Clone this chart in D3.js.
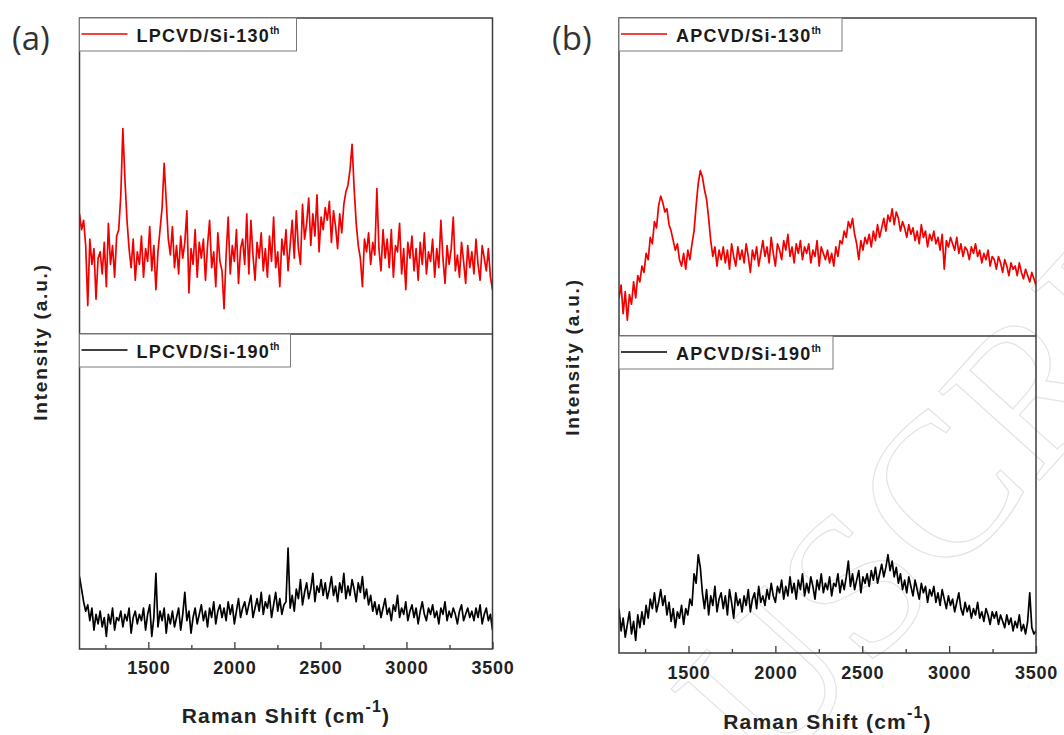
<!DOCTYPE html>
<html><head><meta charset="utf-8">
<script src="https://cdn.jsdelivr.net/npm/d3@7"></script>
<style>body{margin:0;background:#fff}svg{display:block}</style>
</head><body><svg id="c" width="1064" height="735"></svg>
<script>
// ---- data (Raman shift grid, cm-1) ----
const shiftStart = 1100, shiftEnd = 3500, shiftStep = 12;
const ramanShift = d3.range(shiftStart, shiftEnd + 1, shiftStep);

// intensities (a.u.)
const lpcvd130 = [38,33,36,28,9,30,22,27,11,24, 26,19,29,15,35,22,28,18,31,33, 44,65,49,36,27,21,30,17,26,22,
 31,18,27,23,34,20,28,14,26,33, 40,54,42,30,25,34,21,28,19,31, 24,29,39,13,27,22,33,18,29,24,
 30,17,28,36,21,26,15,32,23,20, 8,25,37,19,28,23,33,16,27,30, 22,38,19,36,25,17,29,24,32,20,
 27,18,31,23,37,21,26,15,30,25, 33,20,28,36,24,39,27,22,41,30, 35,43,28,38,31,44,26,37,33,40,
 36,42,29,39,34,27,38,32,41,45, 47,52,60,46,35,28,24,15,30,26, 32,22,29,25,46,27,20,33,24,30,
 21,33,18,28,26,35,19,27,14,29, 24,31,20,27,17,29,22,32,19,26, 23,30,18,27,21,36,24,16,28,22,
 27,37,20,25,18,29,23,16,28,21, 26,19,30,22,17,28,24,20,27,18,14];
const lpcvd190 = [23,19,15,12,14,9,13,6,11,8, 12,7,10,4,11,8,13,6,10,9, 12,7,11,9,13,5,10,12,8,11,
 9,13,6,11,14,4,10,24,7,12, 9,13,5,11,8,12,7,10,13,6, 11,18,9,12,5,10,13,8,11,14,
 9,12,7,13,10,15,8,12,14,10, 13,9,15,11,14,8,12,16,10,13, 15,11,14,17,10,13,16,12,18,11,
 15,13,17,10,14,18,12,16,11,14, 15,32,13,17,12,19,16,22,14,18, 21,16,19,24,15,20,18,22,17,21,
 16,19,23,17,20,15,21,18,24,16, 20,17,22,19,15,21,18,23,16,19, 14,17,12,15,11,14,10,13,16,11,
 13,9,14,12,17,10,13,11,15,9, 12,14,10,13,8,12,15,11,9,13, 11,14,10,12,8,13,11,15,9,12,
 10,13,11,8,12,14,9,11,13,10, 12,9,13,10,14,8,11,13,9,11,6];
const apcvd130 = [12,16,7,14,5,13,10,17,12,19, 17,22,20,26,24,31,29,36,34,41, 44,42,39,40,35,33,30,27,29,24,
 22,26,21,27,24,29,33,41,48,52, 50,46,43,37,30,25,28,22,27,24, 28,23,27,21,29,25,22,28,24,27,
 23,29,25,20,27,24,28,22,26,30, 25,28,23,31,26,22,29,27,24,30, 27,32,25,28,23,29,26,30,24,28,
 26,29,23,27,25,30,22,28,26,24, 27,23,26,22,28,25,30,29,33,31, 36,34,37,32,29,24,30,27,31,29,
 32,28,33,30,35,31,34,37,33,38, 36,40,35,39,37,33,36,34,31,35, 32,34,30,33,29,35,31,33,28,32,
 30,33,29,31,27,32,21,30,28,31, 29,27,31,26,29,25,28,27,24,28, 26,29,25,27,23,26,24,27,22,25,
 24,21,25,23,20,24,22,19,23,21, 22,19,23,20,18,21,19,17,20,18,16];
const apcvd190 = [14,7,11,5,9,13,6,10,4,12, 8,13,9,15,11,17,14,19,13,16, 20,15,18,12,16,10,14,8,13,11,
 15,9,14,12,17,15,25,22,31,27, 19,14,20,12,18,15,21,13,17,19, 14,18,12,20,16,11,19,15,17,13,
 18,15,20,13,17,19,14,21,16,18, 15,20,17,22,18,16,21,19,23,17, 21,18,24,19,22,17,23,20,25,18,
 22,19,24,21,17,23,20,25,19,22, 20,24,18,22,21,25,19,23,20,24, 29,21,25,20,23,26,19,24,22,25,
 21,26,23,27,22,25,28,24,27,31, 26,29,24,27,22,25,20,23,19,24, 21,18,23,20,17,22,19,21,16,20,
 18,21,16,19,15,20,17,14,18,15, 17,13,16,19,14,12,16,13,15,11, 14,12,16,11,13,10,14,12,9,13,
 11,13,9,12,10,8,12,9,11,7, 10,8,12,7,9,6,10,19,8,6,7];

const majorTicks = [1500, 2000, 2500, 3000, 3500];
const minorTicks = [1250, 1750, 2250, 2750, 3250];
const panelLabels = ["(a)", "(b)"];
const topNames = ["LPCVD/Si-130", "APCVD/Si-130"];
const bottomNames = ["LPCVD/Si-190", "APCVD/Si-190"];
const nameSuffix = "th";
const xTitle = "Raman Shift (cm";
const yTitle = "Intensity (a.u.)";

const svg = d3.select("#c");
const FONT = "'Liberation Sans', Arial, sans-serif";

// faint watermark (clipped to the page)
svg.append("clipPath").attr("id", "wm").append("rect").attr("width", 1064).attr("height", 735);
svg.append("g").attr("clip-path", "url(#wm)").append("text")
  .attr("transform", "translate(768,782) rotate(-48)")
  .attr("font-family", "'Liberation Serif', 'DejaVu Serif', serif")
  .attr("font-size", 205)
  .attr("fill", "none").attr("stroke", "#e4e4e4").attr("stroke-width", 1.2)
  .text("USCRIPT");

const panels = [
  {l: 79.5, r: 492.5, t: 18, m: 334, b: 649, top: lpcvd130, bot: lpcvd190, legW1: 217, legW2: 211,
   lab: [12, 50], yt: [47, 342], xtY: 723, pad: 12.5},
  {l: 619, r: 1036, t: 18, m: 336, b: 653, top: apcvd130, bot: apcvd190, legW1: 223, legW2: 214,
   lab: [552, 50], yt: [579, 357], xtY: 729, pad: 13.5}
];

panels.forEach((p, k) => {
  const g = svg.append("g");
  const x = d3.scaleLinear().domain([shiftStart, shiftEnd]).range([p.l, p.r]);
  const yTop = d3.scaleLinear().domain([0, 100]).range([p.m, p.t]);
  const yBot = d3.scaleLinear().domain([0, 100]).range([p.b, p.m]);

  const cid = "clip" + k;
  svg.append("clipPath").attr("id", cid).append("rect")
    .attr("x", p.l).attr("y", p.t).attr("width", p.r - p.l).attr("height", p.b - p.t);

  const lineTop = d3.line().x((d, i) => x(ramanShift[i])).y(d => yTop(d));
  const lineBot = d3.line().x((d, i) => x(ramanShift[i])).y(d => yBot(d));
  g.append("path").attr("clip-path", `url(#${cid})`).attr("d", lineTop(p.top))
    .attr("fill", "none").attr("stroke", "#f20000").attr("stroke-width", 1.7).attr("stroke-linejoin", "round");
  g.append("path").attr("clip-path", `url(#${cid})`).attr("d", lineBot(p.bot))
    .attr("fill", "none").attr("stroke", "#000").attr("stroke-width", 1.7).attr("stroke-linejoin", "round");

  // frame and divider
  g.append("rect").attr("x", p.l).attr("y", p.t).attr("width", p.r - p.l).attr("height", p.b - p.t)
    .attr("fill", "none").attr("stroke", "#3c3c3c").attr("stroke-width", 1.5);
  g.append("line").attr("x1", p.l).attr("x2", p.r).attr("y1", p.m).attr("y2", p.m)
    .attr("stroke", "#3c3c3c").attr("stroke-width", 1.5);

  // axes (inward ticks)
  const axMaj = d3.axisBottom(x).tickValues(majorTicks).tickSizeInner(-7).tickSizeOuter(0).tickPadding(p.pad)
    .tickFormat(d3.format("d"));
  const axG = g.append("g").attr("transform", `translate(0,${p.b})`).call(axMaj);
  axG.select(".domain").remove();
  axG.selectAll("line").attr("stroke", "#3c3c3c").attr("stroke-width", 1.3);
  axG.selectAll("text").attr("font-family", FONT).attr("font-weight", "bold").attr("font-size", 18)
    .attr("letter-spacing", 0.8).attr("fill", "#222");
  const axMin = d3.axisBottom(x).tickValues(minorTicks).tickSizeInner(-4).tickSizeOuter(0).tickFormat("");
  const axM = g.append("g").attr("transform", `translate(0,${p.b})`).call(axMin);
  axM.select(".domain").remove();
  axM.selectAll("line").attr("stroke", "#3c3c3c").attr("stroke-width", 1.3);

  // legends
  const legends = [
    {y: p.t, w: p.legW1, name: topNames[k], color: "#f20000"},
    {y: p.m, w: p.legW2, name: bottomNames[k], color: "#000"}
  ];
  legends.forEach(L => {
    g.append("rect").attr("x", p.l).attr("y", L.y).attr("width", L.w).attr("height", 33)
      .attr("fill", "#fff").attr("stroke", "#7a7a7a").attr("stroke-width", 1);
    g.append("line").attr("x1", p.l + 2).attr("x2", p.l + 48).attr("y1", L.y + 16).attr("y2", L.y + 16)
      .attr("stroke", L.color).attr("stroke-width", 1.3);
    const t = g.append("text").attr("x", p.l + 57).attr("y", L.y + 24)
      .attr("font-family", FONT).attr("font-weight", "bold").attr("font-size", 18)
      .attr("letter-spacing", 1.2).attr("fill", "#1a1a1a");
    t.append("tspan").text(L.name);
    t.append("tspan").attr("font-size", 10).attr("dy", -8).attr("letter-spacing", 0).text(nameSuffix);
  });

  // panel label
  g.append("text").attr("x", p.lab[0]).attr("y", p.lab[1])
    .attr("font-family", "'Open Sans', 'Noto Sans', sans-serif").attr("font-size", 33)
    .attr("fill", "#333").text(panelLabels[k]);

  // y title
  g.append("text").attr("transform", `translate(${p.yt[0]},${p.yt[1]}) rotate(-90)`)
    .attr("text-anchor", "middle").attr("font-family", FONT).attr("font-weight", "bold")
    .attr("font-size", 19).attr("letter-spacing", 1.8).attr("fill", "#222").text(yTitle);

  // x title
  const xt = g.append("text").attr("x", (p.l + p.r) / 2).attr("y", p.xtY).attr("text-anchor", "middle")
    .attr("font-family", FONT).attr("font-weight", "bold").attr("font-size", 21)
    .attr("letter-spacing", 1.2).attr("fill", "#222");
  xt.append("tspan").text(xTitle);
  xt.append("tspan").attr("font-size", 16).attr("dy", -11).text("-1");
  xt.append("tspan").attr("dy", 11).text(")");
});
</script></body></html>
